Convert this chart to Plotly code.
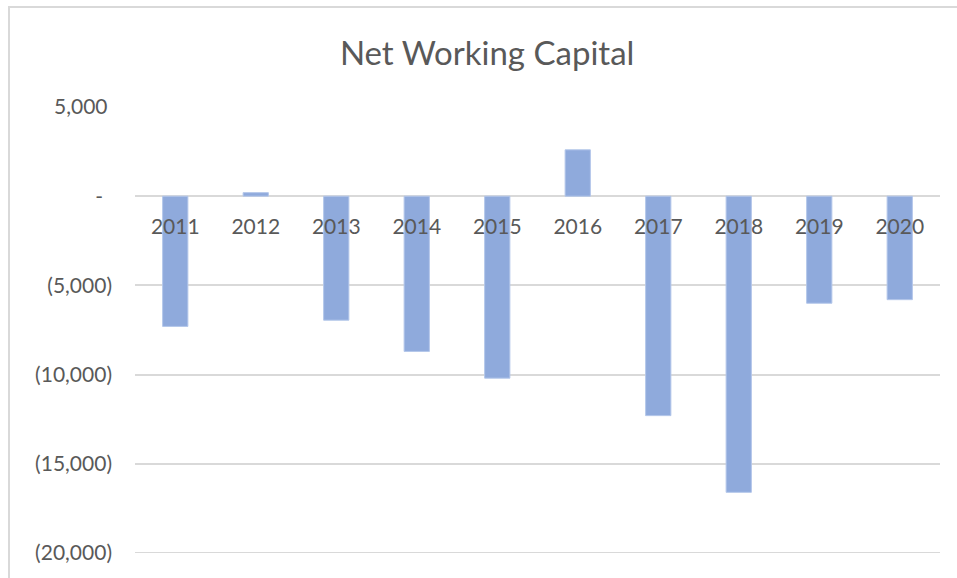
import plotly.graph_objects as go

years = ["2011", "2012", "2013", "2014", "2015", "2016", "2017", "2018", "2019", "2020"]
net_working_capital = [-7300, 200, -6950, -8700, -10200, 2600, -12300, -16600, -6000, -5800]

y_tick_vals = [5000, 0, -5000, -10000, -15000, -20000]
y_tick_text = ["5,000\u2008", "-\u2008\u2008", "(5,000)", "(10,000)", "(15,000)", "(20,000)"]

Y_MIN, Y_MAX = -20000, 5000
TEXT = "#595959"
GRID = "#D9D9D9"
FONT = "Lato, 'Open Sans', sans-serif"

fig = go.Figure()
fig.add_trace(go.Bar(
    x=years,
    y=net_working_capital,
    marker=dict(color="#8FAADC", line=dict(color="#B4C7EA", width=1)),
    hoverinfo="x+y",
))

fig.update_layout(
    width=957,
    height=578,
    paper_bgcolor="white",
    plot_bgcolor="white",
    margin=dict(l=135, r=17, t=107, b=25),
    bargap=0.686,
    showlegend=False,
    font=dict(family=FONT, color=TEXT),
    title=dict(
        text="Net Working Capital",
        font=dict(family=FONT, size=33, color=TEXT),
        x=0.509, xref="container", xanchor="center",
        y=0.908, yref="container", yanchor="middle",
    ),
    xaxis=dict(
        type="category",
        anchor="free",
        position=(0 - Y_MIN) / (Y_MAX - Y_MIN),
        showline=False,
        showgrid=False,
        ticks="",
        ticklabelstandoff=16,
        tickfont=dict(family=FONT, size=21, color=TEXT),
    ),
    yaxis=dict(
        range=[Y_MIN, Y_MAX],
        tickvals=y_tick_vals,
        ticktext=y_tick_text,
        showgrid=True,
        gridcolor=GRID,
        gridwidth=2,
        zeroline=True,
        zerolinecolor=GRID,
        zerolinewidth=2,
        showline=False,
        ticks="",
        ticklabelstandoff=22,
        tickfont=dict(family=FONT, size=21, color=TEXT),
    ),
    shapes=[
        dict(type="rect", xref="paper", yref="paper",
             x0=(9 - 135) / 805, x1=(965 - 135) / 805,
             y0=(553 - 590) / 446, y1=1 + (107 - 7) / 446,
             line=dict(color=GRID, width=2), layer="below"),
        dict(type="line", xref="paper", yref="y",
             x0=0, x1=1, y0=Y_MIN, y1=Y_MIN,
             line=dict(color=GRID, width=2), layer="below"),
    ],
)

fig.write_html(
    "out.html",
    config={"displayModeBar": False},
    post_script="document.body.style.margin='0px';document.body.style.overflow='hidden';",
)
